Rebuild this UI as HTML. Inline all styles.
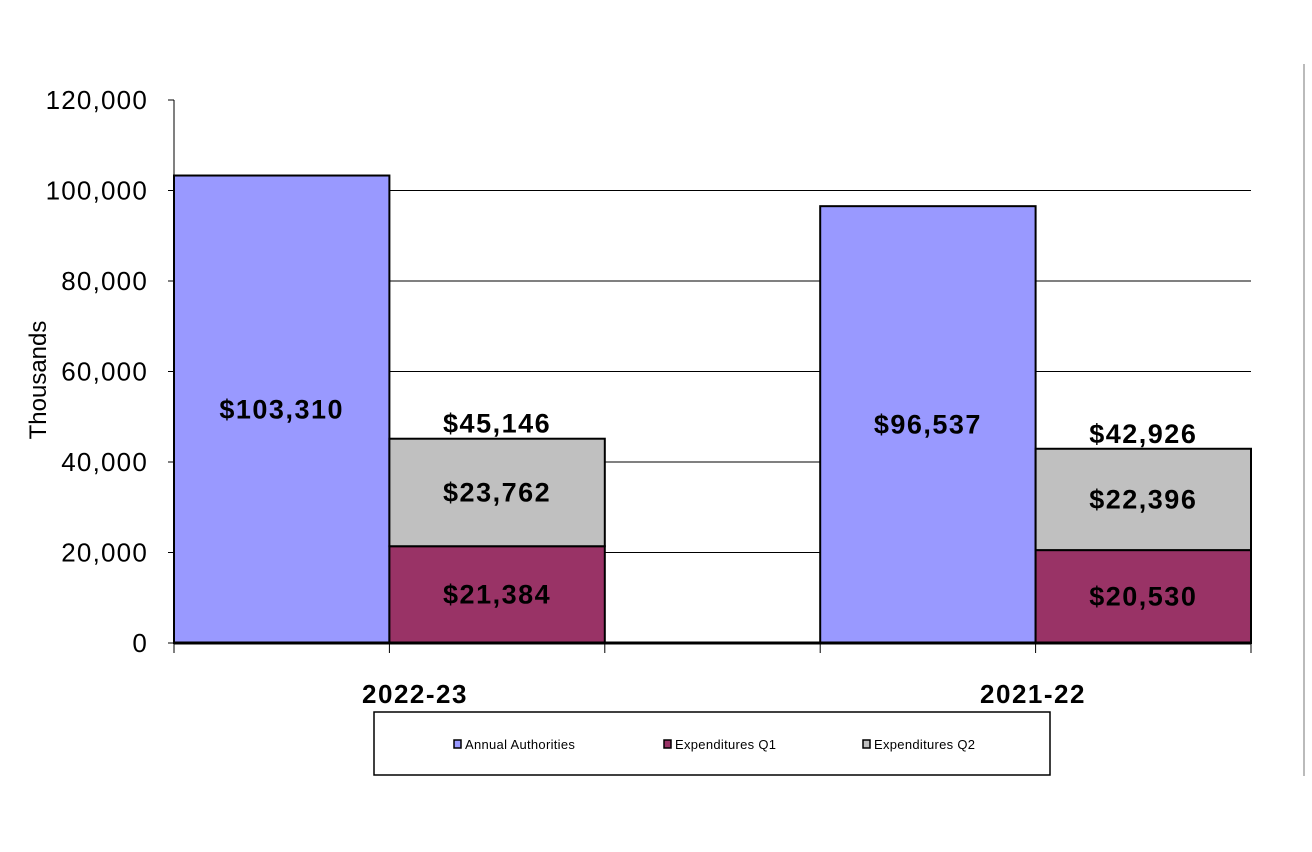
<!DOCTYPE html>
<html><head><meta charset="utf-8"><style>
body{margin:0;background:#fff;width:1312px;height:847px;overflow:hidden;font-family:"Liberation Sans",sans-serif}
</style></head><body>
<svg width="1312" height="847">
<line x1="1304" y1="64" x2="1304" y2="776" stroke="#bbb" stroke-width="2"/>
<g id="grid"></g><g id="bars"></g><g id="axes"></g>
<text x="46" y="380" font-size="24" text-anchor="middle" transform="rotate(-90 46 380)">Thousands</text>
<g>
<rect x="374" y="712" width="676" height="63" fill="#fff" stroke="#000" stroke-width="1.5"/>
<rect x="454" y="740" width="7" height="8" fill="#9999ff" stroke="#000" stroke-width="1.5"/>
<text x="465" y="749" font-size="13" letter-spacing="0.3">Annual Authorities</text>
<rect x="664" y="740" width="7" height="8" fill="#993366" stroke="#000" stroke-width="1.5"/>
<text x="675" y="749" font-size="13" letter-spacing="0.3">Expenditures Q1</text>
<rect x="863" y="740" width="7" height="8" fill="#c0c0c0" stroke="#000" stroke-width="1.5"/>
<text x="874" y="749" font-size="13" letter-spacing="0.3">Expenditures Q2</text>
</g>
</svg>
<script>
const categories=["2022-23","2021-22"];
const authorities=[103310,96537];
const q1=[21384,20530];
const q2=[23762,22396];
const yTicks=[0,20000,40000,60000,80000,100000,120000];
const NS="http://www.w3.org/2000/svg";
const x0=174,slot=215.4,yb=643,yt=100,ymax=120000;
const y=v=>yb-(v/ymax)*(yb-yt);
function mk(p,t,a){const e=document.createElementNS(NS,t);for(const k in a)e.setAttribute(k,a[k]);p.appendChild(e);return e;}
const grid=document.getElementById('grid'),bars=document.getElementById('bars'),axes=document.getElementById('axes');
yTicks.forEach(v=>{
 if(v>0&&v<ymax){const g=mk(grid,'line',{x1:x0,x2:1251,y1:y(v),y2:y(v),stroke:'#000','stroke-width':1});
 
 }
 const tk=mk(axes,'line',{x1:x0-6,x2:x0,y1:y(v),y2:y(v),stroke:'#000','stroke-width':1});
 
 
 const t=mk(axes,'text',{x:148,y:y(v)+9,'font-size':26,'letter-spacing':1.2,'text-anchor':'end'});
 t.textContent=v.toLocaleString('en-US');
 
 
});
const fmt=v=>'$'+v.toLocaleString('en-US');
function lbl(x,yy,s){const t=mk(bars,'text',{x:x,y:yy,'font-size':27,'letter-spacing':1.5,'font-weight':'bold','text-anchor':'middle'});t.textContent=s;
 
 }
function bar(x,v0,v1,fill,name){const r=mk(bars,'rect',{x:x,y:y(v1),width:slot,height:y(v0)-y(v1),fill:fill,stroke:'#000','stroke-width':2});
 
 }
categories.forEach((c,i)=>{
 const xa=x0+slot*(i*3),xe=xa+slot;
 bar(xa,0,authorities[i],'#9999ff','bar-authorities-'+c);
 bar(xe,0,q1[i],'#993366','bar-q1-'+c);
 bar(xe,q1[i],q1[i]+q2[i],'#c0c0c0','bar-q2-'+c);
 lbl(xa+slot/2,y(authorities[i]/2)+9,fmt(authorities[i]));
 lbl(xe+slot/2,y(q1[i]/2)+9,fmt(q1[i]));
 lbl(xe+slot/2,y(q1[i]+q2[i]/2)+9,fmt(q2[i]));
 lbl(xe+slot/2,y(q1[i]+q2[i])-6,fmt(q1[i]+q2[i]));
 const t=mk(axes,'text',{x:415+i*618,y:703,'font-size':26,'letter-spacing':1.5,'font-weight':'bold','text-anchor':'middle'});
 t.textContent=c;
 
 
});
const ax=mk(axes,'line',{x1:x0,x2:x0,y1:yt,y2:yb,stroke:'#000','stroke-width':1});


const bx=mk(axes,'line',{x1:x0,x2:1251,y1:yb,y2:yb,stroke:'#000','stroke-width':3});


for(let k=0;k<=5;k++){const t=mk(axes,'line',{x1:x0+slot*k,x2:x0+slot*k,y1:yb,y2:yb+10,stroke:'#000','stroke-width':1});
 
 }
</script>
</body></html>
